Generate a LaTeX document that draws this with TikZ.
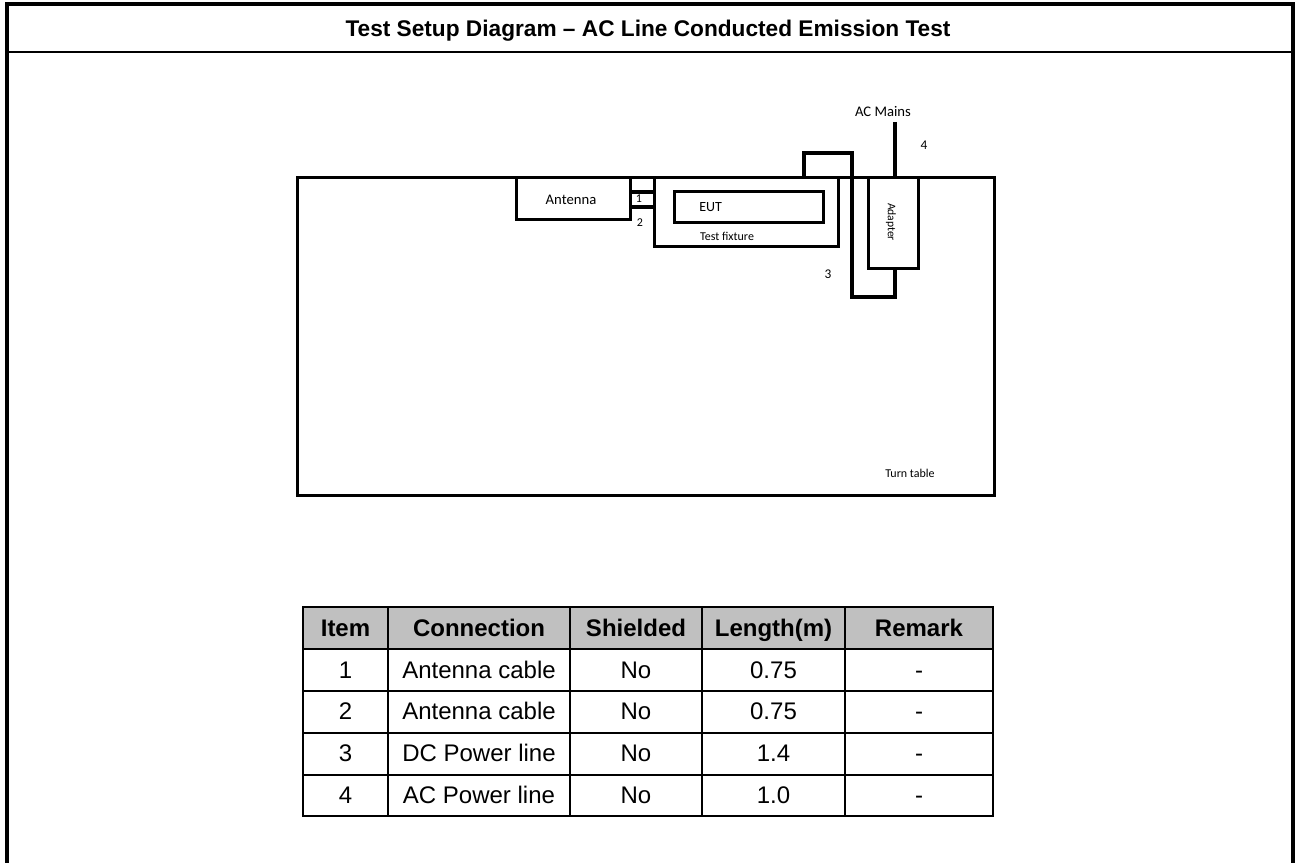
\documentclass[tikz,border=0pt]{standalone}
\usepackage{fontspec}
\setmainfont{Liberation Sans}
\newfontfamily\calfont{Carlito}
\definecolor{headgrey}{HTML}{C0C0C0}

\begin{document}
\begin{tikzpicture}[x=0.75pt, y=-0.75pt]
  % pixel grid of the page, y downwards
  \useasboundingbox (0,0) rectangle (1295,863);
  \tikzset{
    wire/.style={line width=2.6pt, line join=miter},
    box/.style={draw, line width=2.6pt, anchor=north west, inner sep=0pt},
    tag/.style={font=\calfont\fontsize{8.5}{10}\selectfont, inner sep=0pt},
    grid/.style={line width=1.5pt},
    cell/.style={font=\fontsize{18}{20}\selectfont, inner sep=0pt,
                 text height=12.9pt, text depth=0pt},
    headcell/.style={cell, font=\bfseries\fontsize{18}{20}\selectfont}}

  % ---------- page frame and title ----------
  \draw[line width=3pt] (6.5,863) -- (6.5,4.5) -- (1293,4.5) -- (1293,863);
  \draw[line width=1.8pt] (6.5,52) -- (1293,52);
  \node[font=\bfseries\fontsize{17}{20}\selectfont, text height=12.2pt,
        text depth=0pt, inner sep=0pt] (title) at (648,28)
    {Test Setup Diagram -- AC Line Conducted Emission Test};

  % ---------- the set-up ----------
  \node[box, minimum width=697*0.75pt, minimum height=318*0.75pt] (table) at (296,176) {};
  \node[box, minimum width=114*0.75pt, minimum height=42*0.75pt] (antenna) at (515,176) {};
  \node[box, minimum width=184*0.75pt, minimum height=69*0.75pt] (fixture) at (653,176) {};
  \node[box, minimum width=149*0.75pt, minimum height=31*0.75pt] (eut) at (673,190) {};
  \node[box, minimum width=50*0.75pt, minimum height=91*0.75pt] (adapter) at (867,176) {};

  \node[tag, font=\calfont\fontsize{11}{12}\selectfont] (antlab) at (571,200) {Antenna};
  \node[tag, font=\calfont\fontsize{10.5}{12}\selectfont, anchor=west] (eutlab) at (699,207) {EUT};
  \node[tag, font=\calfont\fontsize{9}{10}\selectfont] (fixlab) at (727,236) {Test fixture};
  \node[tag, font=\calfont\fontsize{8.7}{10}\selectfont, rotate=-90] (adlab) at (891,222) {Adapter};
  \node[tag, font=\calfont\fontsize{9}{10}\selectfont] (ttlab) at (910,473) {Turn table};
  \node[tag, font=\calfont\fontsize{11}{12}\selectfont] (mains) at (883,112) {AC Mains};

  % cable 1 and 2 between antenna and fixture
  \coordinate (c1a) at (629,192);
  \coordinate (c1b) at (653,192);
  \coordinate (c2a) at (629,207);
  \coordinate (c2b) at (655,207);
  \draw[wire] (c1a) -- (c1b);
  \draw[wire] (c2a) -- (c2b);

  % cable 3: fixture up and over, down to the adapter
  \coordinate (c3a) at (804,176);
  \coordinate (c3b) at (895,267);
  \draw[wire] (c3a) -- (804,153) -- (852,153) -- (852,297) -- (895,297) -- (c3b);

  % cable 4: adapter to the mains
  \coordinate (c4a) at (895,122);
  \coordinate (c4b) at (895,176);
  \draw[wire] (c4a) -- (c4b);

  \node[tag, font=\calfont\fontsize{9}{10}\selectfont] (n1) at (639,199) {1};
  \node[tag, font=\calfont\fontsize{9}{10}\selectfont] (n2) at (640,223) {2};
  \node[tag, font=\calfont\fontsize{10}{10}\selectfont] (n3) at (828,274) {3};
  \node[tag, font=\calfont\fontsize{10}{10}\selectfont] (n4) at (924,145) {4};

  % ---------- cable list ----------
  \fill[headgrey] (303,607) rectangle (993,649);
  \foreach \y in {649,691,733,775}
    \draw[grid] (303,\y) -- (993,\y);
  \foreach \x in {388,570,702,845}
    \draw[grid] (\x,607) -- (\x,816);
  \draw[grid] (303,607) rectangle (993,816);

  \node[headcell] (h1) at (345.5,628) {Item};
  \node[headcell] (h2) at (479,628) {Connection};
  \node[headcell] (h3) at (636,628) {Shielded};
  \node[headcell] (h4) at (773.5,628) {Length(m)};
  \node[headcell] (h5) at (919,628) {Remark};

  \foreach \itm/\conn/\len [count=\r] in
      {1/Antenna cable/0.75, 2/Antenna cable/0.75,
       3/DC Power line/1.4, 4/AC Power line/1.0} {
    \pgfmathsetmacro{\yy}{628+41.6*\r}
    \node[cell] (item\r) at (345.5,\yy) {\itm};
    \node[cell] (conn\r) at (479,\yy) {\conn};
    \node[cell] (shd\r)  at (636,\yy) {No};
    \node[cell] (len\r)  at (773.5,\yy) {\len};
    \node[cell] (rmk\r)  at (919,\yy) {-};
  }
\end{tikzpicture}
\end{document}
